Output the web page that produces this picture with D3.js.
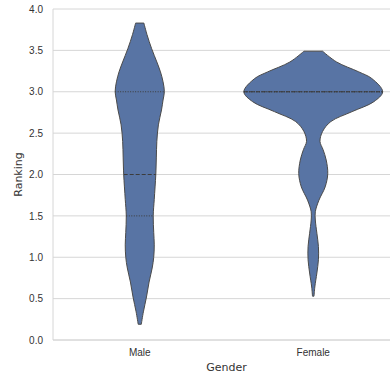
<!DOCTYPE html>
<html>
<head>
<meta charset="utf-8">
<script src="https://cdn.jsdelivr.net/npm/d3@7"></script>
<style>
  body { margin: 0; background: #fff; }
  svg { display: block; }
</style>
</head>
<body>
<div id="chart"></div>
<script>
var genders = ["Male", "Female"];
var rankTicks = [0, 0.5, 1, 1.5, 2, 2.5, 3, 3.5, 4];

// kde profile of each violin (ranking -> density)
var maleRanking = [0.19, 0.34, 0.52, 0.7, 0.87, 1.0, 1.15, 1.3, 1.5, 1.7, 2.0, 2.2, 2.4, 2.6, 2.78, 2.9, 3.0, 3.12, 3.24, 3.36, 3.52, 3.69, 3.83];
var maleDensity  = [0.03, 0.07, 0.13, 0.18, 0.24, 0.27, 0.28, 0.27, 0.26, 0.28, 0.31, 0.32, 0.33, 0.36, 0.42, 0.45, 0.475, 0.45, 0.40, 0.33, 0.23, 0.14, 0.08];

var femaleRanking = [0.53, 0.64, 0.81, 0.97, 1.13, 1.29, 1.45, 1.55, 1.69, 1.85, 2.01, 2.175, 2.3, 2.4, 2.52, 2.64, 2.76, 2.88, 3.0, 3.16, 3.24, 3.36, 3.49];
var femaleDensity  = [0.015, 0.03, 0.07, 0.10, 0.10, 0.07, 0.04, 0.04, 0.11, 0.23, 0.28, 0.25, 0.19, 0.13, 0.18, 0.34, 0.75, 1.17, 1.34, 1.13, 0.88, 0.45, 0.18];

var maleQuartiles = [1.5, 2.0, 3.0];
var femaleQuartiles = [3.0, 3.0, 3.0];

var violins = [
  { gender: "Male", ranking: maleRanking, density: maleDensity, quartiles: maleQuartiles },
  { gender: "Female", ranking: femaleRanking, density: femaleDensity, quartiles: femaleQuartiles }
];

var W = 390, H = 374;
var margin = { top: 9, left: 53, bottom: 34 };
var plotBottom = H - margin.bottom;

var svg = d3.select("#chart").append("svg")
  .attr("width", W)
  .attr("height", H)
  .style("font-family", "'DejaVu Sans', sans-serif");

var x = d3.scaleBand()
  .domain(genders)
  .range([margin.left, 400]);

var y = d3.scaleLinear()
  .domain([0, 4])
  .range([plotBottom, margin.top]);

var maxDens = d3.max(violins, v => d3.max(v.density));
var w = d3.scaleLinear()
  .domain([0, maxDens])
  .range([0, x.bandwidth() * 0.4]);

// grid
svg.append("g")
  .selectAll("line")
  .data(rankTicks)
  .enter()
  .append("line")
  .attr("x1", margin.left)
  .attr("x2", W)
  .attr("y1", d => y(d))
  .attr("y2", d => y(d))
  .attr("stroke", "#d6d6d6")
  .attr("stroke-width", 1);

// spines
svg.append("line")
  .attr("x1", margin.left).attr("x2", margin.left)
  .attr("y1", y(4)).attr("y2", y(0))
  .attr("stroke", "#d6d6d6");
svg.append("line")
  .attr("x1", margin.left).attr("x2", W)
  .attr("y1", y(0)).attr("y2", y(0))
  .attr("stroke", "#d6d6d6");

// y axis
var yAxis = svg.append("g")
  .attr("transform", "translate(" + margin.left + ",0)")
  .call(d3.axisLeft(y).tickValues(rankTicks).tickFormat(d3.format(".1f")).tickSize(0).tickPadding(10));
yAxis.select(".domain").remove();
yAxis.selectAll("text")
  .style("font-size", "10px")
  .style("fill", "#333");

// x axis
var xAxis = svg.append("g")
  .attr("transform", "translate(0," + plotBottom + ")")
  .call(d3.axisBottom(x).tickSize(0).tickPadding(9));
xAxis.select(".domain").remove();
xAxis.selectAll("text")
  .style("font-size", "10px")
  .style("fill", "#333");

// labels
svg.append("text")
  .attr("x", (margin.left + 400) / 2)
  .attr("y", 371)
  .attr("text-anchor", "middle")
  .style("font-size", "11px")
  .style("fill", "#333")
  .text("Gender");

svg.append("text")
  .attr("transform", "translate(22," + (y(2)) + ")rotate(-90)")
  .attr("text-anchor", "middle")
  .style("font-size", "11px")
  .style("fill", "#333")
  .text("Ranking");

// violins
function densAt(v, r) {
  var i = d3.bisectLeft(v.ranking, r);
  if (i <= 0) return v.density[0];
  if (i >= v.ranking.length) return v.density[v.density.length - 1];
  var r0 = v.ranking[i - 1], r1 = v.ranking[i];
  var t = (r - r0) / (r1 - r0);
  return v.density[i - 1] + t * (v.density[i] - v.density[i - 1]);
}

violins.forEach(function(v) {
  var cx = x(v.gender) + x.bandwidth() / 2;
  var pts = v.ranking.map((r, i) => ({ r: r, d: v.density[i] }));

  var area = d3.area()
    .y(d => y(d.r))
    .x0(d => cx - w(d.d))
    .x1(d => cx + w(d.d))
    .curve(d3.curveCatmullRom);

  svg.append("path")
    .datum(pts)
    .attr("d", area)
    .attr("fill", "#5874a4")
    .attr("stroke", "#4a4a4a")
    .attr("stroke-width", 1);

  v.quartiles.forEach(function(q, i) {
    var hw = w(densAt(v, q));
    svg.append("line")
      .attr("x1", cx - hw)
      .attr("x2", cx + hw)
      .attr("y1", y(q))
      .attr("y2", y(q))
      .attr("stroke", "#3c3c3c")
      .attr("stroke-width", 1)
      .attr("stroke-dasharray", i === 1 ? "4,2" : "1,1.5");
  });
});
</script>
</body>
</html>
